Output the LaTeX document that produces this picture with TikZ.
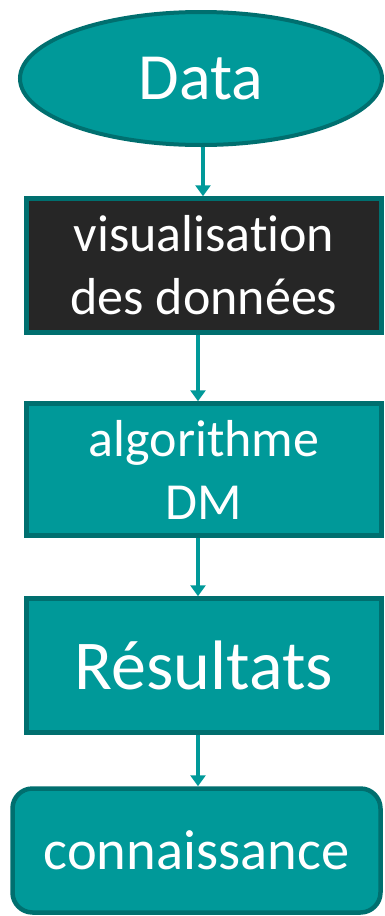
\documentclass[tikz,border=0pt]{standalone}
\usepackage{fontspec}
\setmainfont{Carlito}[Ligatures={NoCommon,NoRare}]
\usetikzlibrary{shapes.geometric,arrows.meta}
\definecolor{tealfill}{HTML}{009999}
\definecolor{tealedge}{HTML}{006F6F}
\definecolor{darkfill}{HTML}{262626}
\tikzset{
  flowbox/.style={draw=tealedge, line width=4.5pt, fill=tealfill, text=white,
    rectangle, inner sep=0pt, align=center},
  arr/.style={draw=tealfill, line width=4pt,
    -{Triangle[length=11pt,width=15pt]}},
}
\begin{document}
\begin{tikzpicture}[x=1pt,y=-1pt]
  \useasboundingbox (0,0) rectangle (385,916);
  % start of the flow
  \node[ellipse, draw=tealedge, line width=4pt, fill=tealfill, text=white,
        minimum width=362pt, minimum height=133pt, inner sep=0pt,
        font=\fontsize{66}{79}\selectfont]
        (data) at (201,78.5) {Data};
  % processing steps
  \node[flowbox, fill=darkfill, minimum width=355pt, minimum height=134pt,
        font=\fontsize{52}{63}\selectfont]
        (vis) at (204,265.5) {visualisation\\des données};
  \node[flowbox, minimum width=355pt, minimum height=132pt,
        font=\fontsize{52}{63}\selectfont]
        (algo) at (204,469.5) {algorithme\\DM};
  \node[flowbox, minimum width=355pt, minimum height=134pt,
        font=\fontsize{70}{84}\selectfont]
        (res) at (204,665.5) {Résultats};
  \node[flowbox, rounded corners=20pt, minimum width=368pt, minimum height=124pt,
        font=\fontsize{56.5}{68}\selectfont]
        (con) at (196.5,850.5) {connaissance};
  % connectors
  \draw[arr] ([xshift=2pt]data.south) -- ([xshift=-1pt]vis.north);
  \draw[arr] ([xshift=-6pt]vis.south) -- ([xshift=-6pt]algo.north);
  \draw[arr] ([xshift=-6pt]algo.south) -- ([xshift=-6pt]res.north);
  \draw[arr] ([xshift=-6pt]res.south) -- ([xshift=1.5pt]con.north);
\end{tikzpicture}
\end{document}
